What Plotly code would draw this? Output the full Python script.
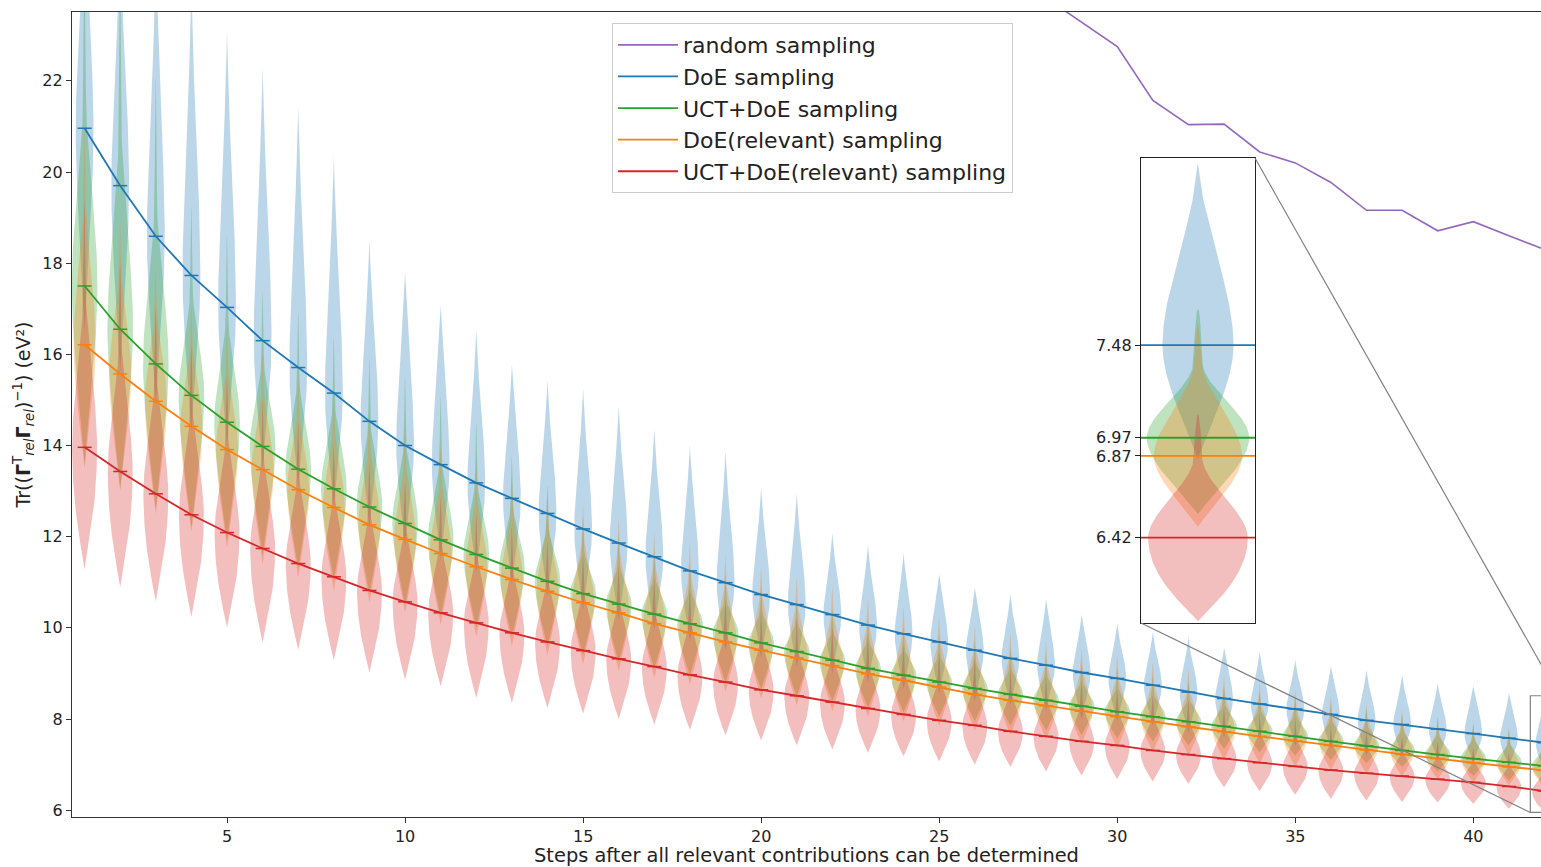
import numpy as np
import plotly.graph_objects as go

# ---------------- data ----------------
steps = list(range(1, 43))

doe_mean = [20.96, 19.70, 18.59, 17.73, 17.03, 16.30, 15.71, 15.15, 14.53, 14.00,
            13.58, 13.18, 12.84, 12.51, 12.17, 11.86, 11.56, 11.25, 10.99, 10.73,
            10.51, 10.29, 10.06, 9.87, 9.69, 9.51, 9.33, 9.18, 9.02, 8.89,
            8.74, 8.59, 8.45, 8.33, 8.22, 8.10, 7.97, 7.88, 7.78, 7.68,
            7.58, 7.48]
doe_hi = [26.0, 25.2, 24.6, 24.1, 23.08, 22.31, 21.44, 20.36, 18.53, 17.80,
          17.07, 16.55, 15.79, 15.44, 15.26, 14.86, 14.35, 14.02, 13.87, 13.07,
          12.96, 12.08, 11.82, 11.66, 11.17, 10.89, 10.75, 10.63, 10.29, 10.11,
          9.91, 9.80, 9.57, 9.48, 9.30, 9.17, 9.07, 8.97, 8.79, 8.73,
          8.57, 8.48]
doe_lo = [16.5, 15.6, 14.9, 14.3, 14.0, 13.5, 13.1, 12.65, 12.2, 11.8,
          11.5, 11.2, 10.95, 10.7, 10.4, 10.15, 9.95, 9.7, 9.5, 9.35,
          9.15, 9.0, 8.8, 8.65, 8.55, 8.4, 8.3, 8.2, 8.0, 7.95,
          7.85, 7.7, 7.6, 7.55, 7.4, 7.35, 7.2, 7.2, 7.1, 7.05,
          6.95, 6.85]

uct_mean = [17.50, 16.55, 15.79, 15.10, 14.51, 13.98, 13.48, 13.05, 12.65, 12.29,
            11.93, 11.61, 11.31, 11.02, 10.75, 10.52, 10.30, 10.09, 9.89, 9.67,
            9.48, 9.29, 9.11, 8.96, 8.81, 8.67, 8.54, 8.41, 8.28, 8.16,
            8.05, 7.94, 7.84, 7.73, 7.62, 7.51, 7.41, 7.31, 7.22, 7.13,
            7.05, 6.97]
uct_hi = [25.0, 24.5, 22.06, 19.24, 18.62, 17.38, 16.94, 16.39, 15.92, 15.5,
          15.08, 14.5, 13.76, 13.14, 12.41, 12.04, 11.71, 11.4, 11.15, 10.9,
          10.6, 10.4, 10.2, 10.0, 9.85, 9.7, 9.55, 9.4, 9.25, 9.1,
          8.95, 8.82, 8.7, 8.58, 8.45, 8.33, 8.22, 8.1, 8.0, 7.9,
          7.8, 7.68]
uct_lo = [13.6, 13.05, 12.6, 12.2, 11.9, 11.6, 11.3, 11.05, 10.75, 10.5,
          10.25, 10.0, 9.8, 9.6, 9.4, 9.25, 9.1, 8.95, 8.8, 8.65,
          8.5, 8.4, 8.25, 8.15, 8.05, 7.95, 7.85, 7.75, 7.65, 7.57,
          7.5, 7.42, 7.35, 7.27, 7.2, 7.1, 7.03, 6.95, 6.85, 6.75,
          6.65, 6.55]

rel_mean = [16.21, 15.57, 14.97, 14.42, 13.91, 13.47, 13.03, 12.64, 12.26, 11.94,
            11.63, 11.34, 11.06, 10.80, 10.55, 10.33, 10.09, 9.89, 9.69, 9.51,
            9.34, 9.17, 8.99, 8.85, 8.70, 8.54, 8.41, 8.29, 8.17, 8.05,
            7.94, 7.83, 7.72, 7.62, 7.52, 7.42, 7.32, 7.22, 7.13, 7.04,
            6.95, 6.87]
rel_hi = [21.0, 18.9, 17.9, 17.1, 16.6, 16.1, 15.6, 15.2, 14.8, 14.4,
          14.0, 13.6, 13.3, 13.0, 12.7, 12.4, 12.1, 11.85, 11.6, 11.35,
          11.1, 10.9, 10.65, 10.45, 10.25, 10.05, 9.9, 9.7, 9.55, 9.4,
          9.25, 9.1, 8.95, 8.8, 8.65, 8.5, 8.35, 8.2, 8.05, 7.9,
          7.75, 7.6]
rel_lo = [13.5, 13.0, 12.5, 12.1, 11.75, 11.4, 11.1, 10.8, 10.55, 10.33,
          10.07, 9.81, 9.6, 9.4, 9.2, 9.05, 8.9, 8.75, 8.6, 8.45,
          8.3, 8.17, 8.05, 7.95, 7.85, 7.75, 7.65, 7.55, 7.45, 7.35,
          7.27, 7.19, 7.1, 7.02, 6.95, 6.88, 6.8, 6.74, 6.67, 6.6,
          6.55, 6.48]

ucr_mean = [13.96, 13.43, 12.94, 12.48, 12.09, 11.74, 11.41, 11.12, 10.82, 10.57,
            10.33, 10.11, 9.89, 9.69, 9.50, 9.32, 9.15, 8.97, 8.81, 8.64,
            8.51, 8.37, 8.23, 8.10, 7.97, 7.86, 7.73, 7.62, 7.51, 7.42,
            7.31, 7.22, 7.13, 7.04, 6.96, 6.88, 6.81, 6.75, 6.68, 6.61,
            6.52, 6.42]
ucr_hi = [19.4, 18.0, 17.0, 16.2, 15.5, 15.0, 14.5, 14.0, 13.6, 13.2,
          12.85, 12.5, 12.2, 11.9, 11.6, 11.35, 11.1, 10.85, 10.6, 10.4,
          10.2, 10.0, 9.8, 9.6, 9.45, 9.3, 9.1, 8.95, 8.8, 8.65,
          8.5, 8.4, 8.25, 8.1, 8.0, 7.85, 7.75, 7.6, 7.5, 7.35,
          7.25, 7.1]
ucr_lo = [11.28, 10.89, 10.57, 10.24, 10.00, 9.68, 9.52, 9.29, 9.02, 8.86,
          8.72, 8.46, 8.35, 8.24, 8.12, 8.00, 7.88, 7.76, 7.64, 7.53,
          7.42, 7.33, 7.26, 7.18, 7.07, 7.00, 6.95, 6.85, 6.76, 6.68,
          6.63, 6.58, 6.50, 6.42, 6.34, 6.25, 6.21, 6.18, 6.17, 6.14,
          6.03, 5.96]

random_steps = list(range(28, 43))
random_vals = [23.82, 23.29, 22.75, 21.57, 21.04, 21.05, 20.44, 20.20, 19.77, 19.16,
               19.16, 18.71, 18.91, 18.60, 18.30]

x_ticks = [5, 10, 15, 20, 25, 30, 35, 40]
y_ticks = [6, 8, 10, 12, 14, 16, 18, 20, 22]

series = [
    # name, color, mean, lo, hi
    ("DoE sampling", "#1f77b4", doe_mean, doe_lo, doe_hi),
    ("UCT+DoE sampling", "#2ca02c", uct_mean, uct_lo, uct_hi),
    ("DoE(relevant) sampling", "#ff7f0e", rel_mean, rel_lo, rel_hi),
    ("UCT+DoE(relevant) sampling", "#d62728", ucr_mean, ucr_lo, ucr_hi),
]
# violin styling per series: max width, pointed lower tail, body fraction of upper tail
violin_style = [(0.50, False, 1.0), (0.72, False, 0.58), (0.62, False, 0.72), (0.70, True, 0.65)]

X_RANGE = [0.646, 41.9]
Y_RANGE = [5.85, 23.51]
INSET_X = [41.6, 42.4]
INSET_Y = [5.95, 8.51]
INSET_DOM_X = [0.7277, 0.8053]
INSET_DOM_Y = [0.241, 0.8186]
FONT = "DejaVu Sans"


def rgba(hex_color, a):
    h = hex_color.lstrip("#")
    return "rgba(%d,%d,%d,%.2f)" % (int(h[0:2], 16), int(h[2:4], 16), int(h[4:6], 16), a)


def smooth(u):
    u = np.clip(u, 0, 1)
    return (1 - u) ** 2 * (1 + 2 * u)


def violin_polys(positions, lo, mode, hi, style, n=50):
    width, pointed, body = style
    xs, ys = [], []
    for p, l, m, h in zip(positions, lo, mode, hi):
        y_low = np.linspace(l, m, n)
        u = (m - y_low) / (m - l)
        if pointed:
            w_low = (1 - u ** 2) ** 1.1
        else:
            w_low = 0.5 * ((1 - u ** 2) ** 1.1 + 0.85 * smooth(u) + 0.15 * np.sqrt(1 - u))
        y_up = np.linspace(m, h, n)[1:]
        u = (y_up - m) / (h - m)
        w_up = 0.86 * smooth(u / body) + 0.14 * np.sqrt(np.clip(1 - u, 0, 1))
        yy = np.concatenate([y_low, y_up])
        ww = np.concatenate([w_low, w_up]) * width / 2
        xs += list(p + ww) + list((p - ww)[::-1]) + [None]
        ys += list(yy) + list(yy[::-1]) + [None]
    return xs, ys


fig = go.Figure()

# violins (main + inset)
for (name, col, mean, lo, hi), st in zip(series, violin_style):
    vx, vy = violin_polys(steps, lo, mean, hi, st)
    fig.add_trace(go.Scatter(x=vx, y=vy, mode="lines", fill="toself",
                             fillcolor=rgba(col, 0.3), line=dict(width=0),
                             hoverinfo="skip", showlegend=False))
for (name, col, mean, lo, hi), st in zip(series, violin_style):
    vx, vy = violin_polys(steps[-1:], lo[-1:], mean[-1:], hi[-1:], st, n=100)
    fig.add_trace(go.Scatter(x=vx, y=vy, mode="lines", fill="toself",
                             fillcolor=rgba(col, 0.3), line=dict(width=0),
                             hoverinfo="skip", showlegend=False,
                             xaxis="x2", yaxis="y2"))

# mean markers
for name, col, mean, lo, hi in series:
    fig.add_trace(go.Scatter(x=steps, y=mean, mode="markers",
                             marker=dict(symbol="line-ew", size=10,
                                         line=dict(color=col, width=1.5)),
                             hoverinfo="skip", showlegend=False))

# legend lines
fig.add_trace(go.Scatter(x=random_steps, y=random_vals, mode="lines", name="random sampling",
                         line=dict(color="#9467bd", width=1.6), legendgroup="g0"))
for i, (name, col, mean, lo, hi) in enumerate(series):
    fig.add_trace(go.Scatter(x=steps, y=mean, mode="lines", name=name,
                             line=dict(color=col, width=1.8), legendgroup="g%d" % (i + 1)))

# inset mean lines
for name, col, mean, lo, hi in series:
    fig.add_trace(go.Scatter(x=INSET_X, y=[mean[-1], mean[-1]], mode="lines",
                             line=dict(color=col, width=1.8), showlegend=False,
                             hoverinfo="skip", xaxis="x2", yaxis="y2"))


def to_paper_x(v):
    return (v - X_RANGE[0]) / (X_RANGE[1] - X_RANGE[0])


def to_paper_y(v):
    return (v - Y_RANGE[0]) / (Y_RANGE[1] - Y_RANGE[0])


shapes = [
    dict(type="rect", xref="x", yref="y", x0=INSET_X[0], x1=INSET_X[1],
         y0=INSET_Y[0], y1=INSET_Y[1], line=dict(color="#808080", width=1.2)),
    dict(type="line", xref="paper", yref="paper", x0=INSET_DOM_X[1], y0=INSET_DOM_Y[1],
         x1=to_paper_x(INSET_X[1]), y1=to_paper_y(INSET_Y[1]),
         line=dict(color="#808080", width=1.2)),
    dict(type="line", xref="paper", yref="paper", x0=INSET_DOM_X[0], y0=INSET_DOM_Y[0],
         x1=to_paper_x(INSET_X[0]), y1=to_paper_y(INSET_Y[0]),
         line=dict(color="#808080", width=1.2)),
]

axis_common = dict(showgrid=False, zeroline=False, showline=True, linecolor="#333333",
                   linewidth=1.2, ticks="outside", ticklen=5, tickcolor="#333333",
                   tickfont=dict(family=FONT, size=16, color="#222222"))

fig.update_layout(
    width=1541, height=867,
    margin=dict(l=72, r=0, t=12, b=50),
    paper_bgcolor="white", plot_bgcolor="white",
    font=dict(family=FONT, color="#222222"),
    xaxis=dict(range=X_RANGE, tickvals=x_ticks, mirror=True,
               title=dict(text="Steps after all relevant contributions can be determined",
                          font=dict(family=FONT, size=19.4), standoff=5),
               **axis_common),
    yaxis=dict(range=Y_RANGE, tickvals=y_ticks, mirror=False,
               title=dict(text="Tr((<b>Γ</b><sup>T</sup><sub><i>rel</i></sub><b>Γ</b><sub><i>rel</i></sub>)<sup>−1</sup>) (eV²)",
                          font=dict(family=FONT, size=19), standoff=6),
               **axis_common),
    xaxis2=dict(domain=INSET_DOM_X, range=INSET_X, anchor="y2", showticklabels=False,
                showgrid=False, zeroline=False, showline=True, mirror=True,
                linecolor="#222222", linewidth=1.2, ticks=""),
    yaxis2=dict(domain=INSET_DOM_Y, range=INSET_Y, anchor="x2",
                tickvals=[s[2][-1] for s in series],
                ticktext=["%.2f" % s[2][-1] for s in series],
                showgrid=False, zeroline=False, showline=True, mirror=True,
                linecolor="#222222", linewidth=1.2, ticks="outside", ticklen=5,
                tickcolor="#222222", tickfont=dict(family=FONT, size=16, color="#222222")),
    legend=dict(x=0.3676, y=0.9863, xanchor="left", yanchor="top",
                bgcolor="rgba(255,255,255,0.85)", bordercolor="#cccccc", borderwidth=1,
                font=dict(family=FONT, size=22, color="#222222"), tracegroupgap=0,
                itemwidth=60),
    shapes=shapes,
)

fig.write_html("out.html", config={"displayModeBar": False},
               post_script="document.body.style.margin='0px';")
